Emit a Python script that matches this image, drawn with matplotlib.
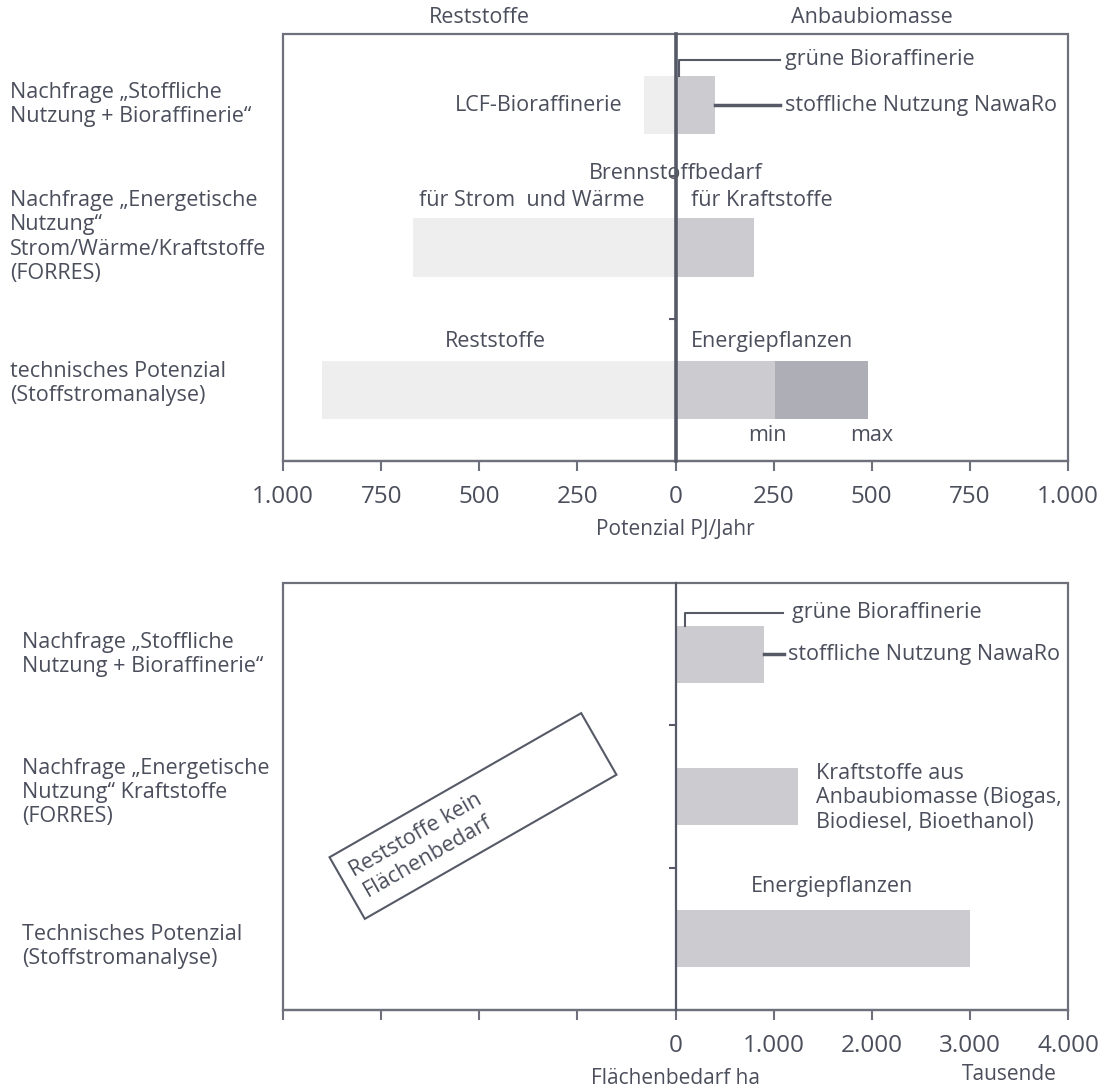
import numpy as np
import matplotlib
matplotlib.use("Agg")
import matplotlib.pyplot as plt
from matplotlib.patches import Rectangle
from matplotlib.ticker import FuncFormatter
from matplotlib.transforms import Affine2D

plt.rcParams['font.family'] = ['Open Sans', 'DejaVu Sans']

# --- Daten oben: Potenzial in PJ/Jahr (Reststoffe negativ nach links) ---
kategorien_oben = [
    "technisches Potenzial\n(Stoffstromanalyse)",
    "Nachfrage „Energetische\nNutzung“\nStrom/Wärme/Kraftstoffe\n(FORRES)",
    "Nachfrage „Stoffliche\nNutzung + Bioraffinerie“",
]
reststoffe_pj = [-900, -670, -80]
anbau_pj = [253, 200, 100]
anbau_max_pj = 490          # nur technisches Potenzial, Obergrenze
achse_oben = np.arange(-1000, 1001, 250)

# --- Daten unten: Flächenbedarf in Tausend ha ---
kategorien_unten = [
    "Technisches Potenzial\n(Stoffstromanalyse)",
    "Nachfrage „Energetische\nNutzung“ Kraftstoffe\n(FORRES)",
    "Nachfrage „Stoffliche\nNutzung + Bioraffinerie“",
]
flaeche_tsd_ha = [3000, 1250, 900]
achse_unten = np.arange(-4000, 4001, 1000)

TEXT = '#4b4f5c'
RAHMEN = '#6e717b'
NULLLINIE = '#565a67'
HELL = '#eeeeee'
MITTEL = '#cbcbd0'
DUNKEL = '#aeaeb6'
FS = 15.5
LS = 1.2
W, H = 1110, 1091

fig = plt.figure(figsize=(W / 100, H / 100), dpi=100)
ax1 = fig.add_axes([283 / W, 1 - 461 / H, 785 / W, 427 / H])
ax2 = fig.add_axes([283 / W, 1 - 1010 / H, 785 / W, 427 / H])


def rahmen(ax, nulllinie_breite):
    # Rahmen über den Achsenhintergrund, linke Achse auf die Null verschieben
    ax.patch.set_edgecolor(RAHMEN)
    ax.patch.set_linewidth(1.6)
    for s in ['top', 'right']:
        ax.spines[s].set_visible(False)
    ax.spines['bottom'].set_color(RAHMEN)
    ax.spines['bottom'].set_linewidth(1.6)
    ax.spines['left'].set_position(('data', 0))
    ax.spines['left'].set_color(NULLLINIE)
    ax.spines['left'].set_linewidth(nulllinie_breite)
    ax.spines['left'].set_zorder(5)
    ax.set_ylim(-0.5, 2.5)
    ax.set_yticks([0.5, 1.5])
    ax.set_yticklabels([])
    ax.tick_params(axis='y', direction='out', length=5, width=1.5, color=NULLLINIE)
    ax.tick_params(axis='x', direction='out', length=7, width=1.5, color=RAHMEN,
                   labelsize=17.5, labelcolor=TEXT, pad=10)


def kategorien(ax, namen, x_pixel, versatz):
    # Kategorienamen links neben dem Rahmen, linksbündig, auf Höhe der Balken
    fig.canvas.draw()
    for yi, (lab, dy) in enumerate(zip(namen, versatz)):
        y_fig = fig.transFigure.inverted().transform(ax.transData.transform((0, yi)))[1]
        fig.text(x_pixel / W, y_fig + dy / H, lab, ha='left', va='center', fontsize=FS,
                 color=TEXT, linespacing=LS)


# ---------------- oberes Diagramm ----------------
y = np.arange(len(kategorien_oben))
h = 0.41
ax1.barh(y, reststoffe_pj, height=h, color=HELL, zorder=2)
ax1.barh(y, anbau_pj, height=h, color=MITTEL, zorder=2)
ax1.barh(y[0], anbau_max_pj - anbau_pj[0], left=anbau_pj[0], height=h, color=DUNKEL, zorder=2)
ax1.set_xlim(-1000, 1000)
rahmen(ax1, 2.6)
ax1.set_xticks(achse_oben)
ax1.xaxis.set_major_formatter(FuncFormatter(lambda v, p: f"{abs(v):,.0f}".replace(",", ".")))
ax1.text(0.5, -(529 - 461) / 427, "Potenzial PJ/Jahr", transform=ax1.transAxes,
         ha='center', va='center', fontsize=15, color=TEXT)

ax1.text(-500, 2.54, "Reststoffe", ha='center', va='bottom', fontsize=FS, color=TEXT)
ax1.text(500, 2.54, "Anbaubiomasse", ha='center', va='bottom', fontsize=FS, color=TEXT)

# Beschriftungen oben
ax1.text(-135, 2.0, "LCF-Bioraffinerie", ha='right', va='center', fontsize=FS, color=TEXT)
ax1.plot([8, 8, 265], [2 + h / 2, 2.32, 2.32], color=NULLLINIE, lw=1.5, zorder=4)
ax1.text(280, 2.32, "grüne Bioraffinerie", ha='left', va='center', fontsize=FS, color=TEXT)
ax1.plot([anbau_pj[2], 265], [2.0, 2.0], color=NULLLINIE, lw=2.5, zorder=4)
ax1.text(280, 2.0, "stoffliche Nutzung NawaRo", ha='left', va='center', fontsize=FS, color=TEXT)
ax1.text(0, 1.52, "Brennstoffbedarf", ha='center', va='center', fontsize=FS, color=TEXT, zorder=1)
ax1.text(-365, 1.33, "für Strom  und Wärme", ha='center', va='center', fontsize=FS, color=TEXT)
ax1.text(40, 1.33, "für Kraftstoffe", ha='left', va='center', fontsize=FS, color=TEXT)
ax1.text(-460, 0.34, "Reststoffe", ha='center', va='center', fontsize=FS, color=TEXT)
ax1.text(40, 0.34, "Energiepflanzen", ha='left', va='center', fontsize=FS, color=TEXT)
ax1.text(235, -0.32, "min", ha='center', va='center', fontsize=FS, color=TEXT)
ax1.text(500, -0.32, "max", ha='center', va='center', fontsize=FS, color=TEXT)

# ---------------- unteres Diagramm ----------------
y2 = np.arange(len(kategorien_unten))
h2 = 0.4
ax2.barh(y2, flaeche_tsd_ha, height=h2, color=MITTEL, zorder=2)
ax2.set_xlim(-4000, 4000)
rahmen(ax2, 1.6)
ax2.set_xticks(achse_unten)
ax2.xaxis.set_major_formatter(FuncFormatter(
    lambda v, p: "" if v < 0 else f"{v:,.0f}".replace(",", ".")))
ax2.text(0.5, -(1079 - 1010) / 427, "Flächenbedarf ha", transform=ax2.transAxes,
         ha='center', va='center', fontsize=15, color=TEXT)
ax2.text(3400, -0.95, "Tausende", ha='center', va='center', fontsize=15, color=TEXT,
         clip_on=False)

ax2.plot([100, 100, 1100], [2 + h2 / 2, 2.29, 2.29], color=NULLLINIE, lw=1.5, zorder=4)
ax2.text(1190, 2.29, "grüne Bioraffinerie", ha='left', va='center', fontsize=FS, color=TEXT)
ax2.plot([flaeche_tsd_ha[2], 1110], [2.0, 2.0], color=NULLLINIE, lw=2.5, zorder=4)
ax2.text(1150, 2.0, "stoffliche Nutzung NawaRo", ha='left', va='center', fontsize=FS, color=TEXT)
ax2.text(1430, 0.99, "Kraftstoffe aus\nAnbaubiomasse (Biogas,\nBiodiesel, Bioethanol)",
         ha='left', va='center', fontsize=FS, color=TEXT, linespacing=LS)
ax2.text(1590, 0.37, "Energiepflanzen", ha='center', va='center', fontsize=FS, color=TEXT)

# Kategorienamen links
kategorien(ax1, kategorien_oben, 10, [6.5, 10.5, 0.5])
kategorien(ax2, kategorien_unten, 22, [-8, 4, 0])

# gedrehter Kasten "Reststoffe kein Flächenbedarf" (Pixelkoordinaten)
cx, cy = 473, H - 816
drehung = Affine2D().rotate_deg_around(cx, cy, 29.8)
kasten = Rectangle((cx - 145, cy - 35.5), 290, 71, fill=False, edgecolor=NULLLINIE,
                   lw=1.5, transform=drehung)
fig.add_artist(kasten)
fig.text(422 / W, 1 - 846 / H, "Reststoffe kein\nFlächenbedarf", rotation=29.8,
         rotation_mode='anchor', ha='center', va='center', fontsize=FS, color=TEXT,
         linespacing=LS)

fig.savefig("out.png", dpi=100)
